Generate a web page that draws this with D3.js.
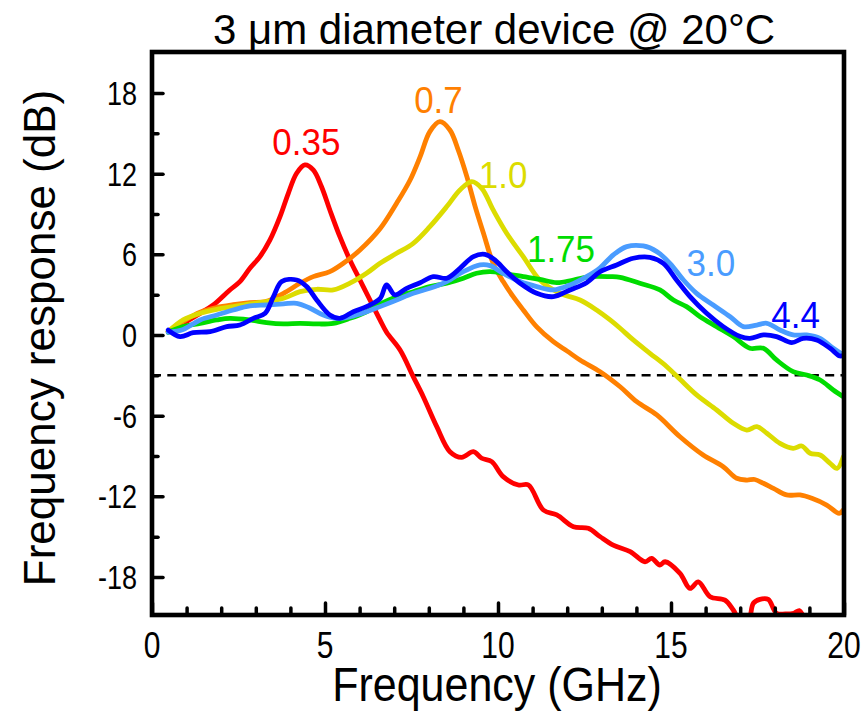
<!DOCTYPE html>
<html>
<head>
<meta charset="utf-8">
<script src="https://cdn.jsdelivr.net/npm/d3@7"></script>
<style>
    body { margin: 0; background: white; }
    text { font-family: "Liberation Sans", Arial, sans-serif; }
</style>
</head>
<body>
<div id="svg_container"></div>
<script>
// frequency (GHz), response (dB)
const s035 = [[0.47,0.25],[0.9,0.87],[1.39,1.61],[1.77,2.23],[2.25,3.35],[2.54,3.97],[2.83,4.96],[3.12,5.83],[3.41,7.07],[3.70,8.8],[3.94,10.54],[4.18,12.03],[4.42,12.65],[4.66,12.28],[4.90,11.03],[5.14,9.3],[5.43,7.31],[5.72,5.58],[6.01,4.09],[6.3,2.6],[6.59,1.12],[6.78,0.2],[7.17,-1.12],[7.55,-3.1],[7.84,-4.59],[8.23,-6.82],[8.61,-8.68],[8.95,-9.1],[9.29,-8.68],[9.53,-9.17],[9.82,-9.42],[10.15,-10.54],[10.59,-11.16],[10.88,-11.16],[11.31,-13.02],[11.7,-13.39],[12.18,-14.26],[12.61,-14.38],[12.95,-15.0],[13.33,-15.63],[13.82,-16.12],[14.25,-16.87],[14.44,-16.62],[14.68,-17.11],[14.83,-16.87],[15.26,-17.73],[15.55,-18.85],[15.79,-18.36],[16.13,-19.47],[16.56,-19.72],[16.8,-20.46],[17.05,-21.5],[17.25,-21.2],[17.38,-19.96],[17.57,-19.67],[17.81,-19.67],[18.05,-20.7],[18.3,-20.75],[18.55,-20.7],[18.71,-20.5],[18.85,-21.0],[19.2,-21.8],[20,-22.5]];
const s07 = [[0.47,0.25],[0.9,1.0],[1.39,1.7],[1.87,2.05],[2.35,2.25],[2.83,2.4],[3.31,2.5],[3.8,3.1],[4.28,3.85],[4.66,4.34],[5.14,4.71],[5.53,5.33],[6.01,6.32],[6.59,7.9],[7.07,9.8],[7.46,11.53],[7.75,13.27],[8.03,15.13],[8.32,15.87],[8.61,15.25],[8.85,13.76],[9.1,11.78],[9.34,9.55],[9.58,7.57],[9.86,5.33],[10.15,3.97],[10.44,2.85],[10.73,1.86],[11.12,0.6],[11.6,-0.5],[12.0,-1.2],[12.37,-1.86],[12.95,-2.73],[13.53,-3.85],[14.01,-4.96],[14.59,-5.95],[15.26,-7.57],[15.93,-8.93],[16.51,-9.8],[16.9,-10.66],[17.19,-10.79],[17.42,-10.75],[17.67,-11.03],[17.96,-11.41],[18.34,-11.9],[18.73,-11.9],[19.07,-12.15],[19.5,-12.65],[19.86,-13.27],[19.98,-13.02]];
const s10 = [[0.47,0.25],[0.9,1.12],[1.39,1.61],[1.87,1.91],[2.35,2.11],[2.83,2.31],[3.31,2.48],[3.8,2.73],[4.28,3.22],[4.76,3.4],[5.24,3.35],[5.72,3.85],[6.2,4.59],[6.59,5.33],[7.07,6.08],[7.55,6.82],[8.03,8.06],[8.52,9.55],[8.9,10.79],[9.24,11.41],[9.53,10.91],[9.86,9.3],[10.25,7.57],[10.73,5.83],[11.21,4.09],[11.79,3.1],[12.37,2.6],[12.85,1.86],[13.24,1.12],[13.53,0.5],[13.91,-0.37],[14.39,-1.36],[14.88,-2.36],[15.26,-3.3],[15.74,-4.46],[16.32,-5.58],[16.8,-6.57],[17.19,-7.07],[17.48,-6.82],[17.77,-7.31],[18.15,-8.06],[18.53,-8.43],[18.78,-8.26],[19.02,-8.8],[19.31,-8.93],[19.6,-9.55],[19.8,-9.92],[19.98,-9.05]];
const s175 = [[0.47,0.2],[0.9,0.62],[1.39,0.87],[1.87,1.12],[2.25,1.24],[2.83,1.12],[3.31,0.92],[3.8,0.82],[4.28,0.87],[4.76,0.82],[5.24,0.87],[5.72,1.24],[6.2,1.73],[6.59,2.3],[7.07,2.85],[7.55,3.22],[8.03,3.6],[8.52,3.85],[9.0,4.22],[9.38,4.59],[9.77,4.71],[10.25,4.54],[10.73,4.34],[11.21,4.14],[11.7,3.89],[12.18,4.09],[12.66,4.34],[13.24,4.34],[13.53,4.29],[14.1,3.85],[14.68,3.35],[15.07,2.6],[15.45,2.11],[15.84,1.36],[16.32,0.62],[16.8,-0.12],[17.28,-0.99],[17.67,-0.99],[18.05,-1.86],[18.53,-2.73],[18.92,-2.98],[19.31,-3.35],[19.69,-4.09],[19.98,-4.59]];
const s30 = [[0.47,0.2],[0.9,0.4],[1.39,1.12],[1.87,1.49],[2.35,1.86],[2.83,2.16],[3.31,2.23],[3.8,2.31],[4.18,2.36],[4.57,1.99],[4.95,1.49],[5.34,1.24],[5.72,1.36],[6.2,1.73],[6.59,2.11],[7.07,2.6],[7.55,3.1],[8.03,3.47],[8.52,3.97],[9.0,4.71],[9.48,5.21],[9.77,5.16],[10.15,4.59],[10.64,3.97],[11.12,3.6],[11.6,3.35],[12.08,3.72],[12.56,4.34],[12.95,5.0],[13.33,5.95],[13.72,6.57],[14.2,6.62],[14.59,6.2],[14.97,5.33],[15.36,4.09],[15.74,3.1],[16.22,2.23],[16.71,1.36],[17.09,0.62],[17.48,0.74],[17.77,0.87],[18.15,0.37],[18.53,0.0],[18.92,0.0],[19.31,-0.25],[19.69,-0.99],[19.98,-1.49]];
const s44 = [[0.47,0.37],[0.81,-0.12],[1.19,0.17],[1.68,0.25],[2.16,0.62],[2.54,0.74],[2.93,1.24],[3.27,1.61],[3.51,2.85],[3.75,3.97],[4.18,4.09],[4.47,3.6],[4.76,2.6],[5.14,1.49],[5.43,1.24],[5.82,1.73],[6.2,2.11],[6.59,2.7],[6.78,3.72],[7.02,2.98],[7.36,3.47],[7.75,3.89],[8.13,4.34],[8.52,4.22],[8.9,4.96],[9.29,5.83],[9.62,6.0],[9.91,5.58],[10.25,4.71],[10.64,3.85],[11.12,3.1],[11.6,2.85],[12.08,3.35],[12.56,3.89],[12.95,4.7],[13.43,5.21],[13.91,5.71],[14.39,5.78],[14.78,5.33],[15.16,4.09],[15.55,2.85],[16.03,1.61],[16.51,0.62],[17.0,-0.12],[17.28,-0.25],[17.67,0.0],[18.05,-0.12],[18.49,-0.57],[18.82,-0.25],[19.21,-0.37],[19.6,-0.99],[19.88,-1.56],[20,-1.5]];

const seriesLabels = ["0.35", "0.7", "1.0", "1.75", "3.0", "4.4"];
const seriesData = [s035, s07, s10, s175, s30, s44];
// where each label sits, in data units (x centre, y baseline)
const labelPos = [[4.46, 13.4], [8.28, 16.5], [10.15, 10.95], [11.82, 5.4], [16.15, 4.4], [18.6, 0.5]];

const xTicks = [0, 5, 10, 15, 20];
const yTicks = [18, 12, 6, 0, -6, -12, -18];
const cutoff = -3;

let colors = ["#ff0000", "#ff8000", "#dcdc00", "#00dc00", "#4a9cff", "#0000ff"];

let margin = {top: 52, right: 21, bottom: 112, left: 152},
    width = 865 - margin.left - margin.right,
    height = 727 - margin.top - margin.bottom;

let svg = d3.select("#svg_container")
    .append("svg")
    .attr("width", 865)
    .attr("height", 727);

let g = svg.append("g")
    .attr("transform", "translate(" + margin.left + "," + margin.top + ")");

let x = d3.scaleLinear().domain([0, 20]).range([0, width]);
let y = d3.scaleLinear().domain([-20.83, 21.05]).range([height, 0]);

// text drawn a bit taller than wide, like the original figure
function tallText(parent, px, py, sy, size, str) {
    return parent.append("text")
        .attr("transform", "translate(" + px + "," + py + ") scale(1," + sy + ")")
        .attr("font-size", size + "px")
        .text(str);
}

g.append("defs").append("clipPath")
    .attr("id", "plotclip")
    .append("rect")
    .attr("x", 0).attr("y", 0)
    .attr("width", width).attr("height", height);

// -3 dB line
g.append("line")
    .attr("x1", 0).attr("x2", width)
    .attr("y1", y(cutoff)).attr("y2", y(cutoff))
    .attr("stroke", "black")
    .attr("stroke-width", 2.6)
    .attr("stroke-dasharray", "9,6.3");

let line = d3.line()
    .x(d => x(d[0]))
    .y(d => y(d[1]))
    .curve(d3.curveCatmullRom.alpha(0.5));

let curves = g.append("g").attr("clip-path", "url(#plotclip)");
for (let i = 0; i < seriesData.length; i++) {
    curves.append("path")
        .datum(seriesData[i])
        .attr("fill", "none")
        .attr("stroke", colors[i])
        .attr("stroke-width", 4.8)
        .attr("stroke-linejoin", "round")
        .attr("stroke-linecap", "round")
        .attr("d", line);
}

for (let i = 0; i < seriesLabels.length; i++) {
    tallText(g, x(labelPos[i][0]), y(labelPos[i][1]), 1.08, 35, seriesLabels[i])
        .attr("text-anchor", "middle")
        .attr("fill", colors[i]);
}

// axes: ticks point inward
let xAxis = d3.axisBottom(x).tickValues(d3.range(0, 21, 1))
    .tickSize(0).tickFormat("");
let xg = g.append("g").attr("transform", "translate(0," + height + ")").call(xAxis);
xg.select(".domain").remove();
xg.selectAll(".tick line")
    .attr("y2", d => d % 5 === 0 ? -12 : -7)
    .attr("stroke", "black")
    .attr("stroke-width", 3.5)
    .attr("stroke-linecap", "round");

let yAxis = d3.axisLeft(y).tickValues(d3.range(-18, 21, 3))
    .tickSize(0).tickFormat("");
let yg = g.append("g").call(yAxis);
yg.select(".domain").remove();
yg.selectAll(".tick line")
    .attr("x2", d => d % 6 === 0 ? 11 : 6)
    .attr("stroke", "black")
    .attr("stroke-width", 3.5)
    .attr("stroke-linecap", "round");

g.append("rect")
    .attr("x", 0).attr("y", 0)
    .attr("width", width).attr("height", height)
    .attr("fill", "none")
    .attr("stroke", "black")
    .attr("stroke-width", 4.6);

xTicks.forEach(function (d) {
    tallText(g, x(d), height + 43, 1.22, 30, d)
        .attr("text-anchor", "middle");
});

yTicks.forEach(function (d) {
    tallText(g, -15, y(d) + 12, 1.25, 27, d)
        .attr("text-anchor", "end");
});

svg.append("text")
    .attr("x", 494)
    .attr("y", 44)
    .attr("text-anchor", "middle")
    .attr("font-size", "42px")
    .text("3 \u03bcm diameter device @ 20\u00b0C");

tallText(svg, 497, 701, 1.12, 43, "Frequency (GHz)")
    .attr("text-anchor", "middle");

svg.append("text")
    .attr("transform", "translate(55,338) rotate(-90)")
    .attr("text-anchor", "middle")
    .attr("font-size", "44px")
    .text("Frequency response (dB)");
</script>
</body>
</html>
